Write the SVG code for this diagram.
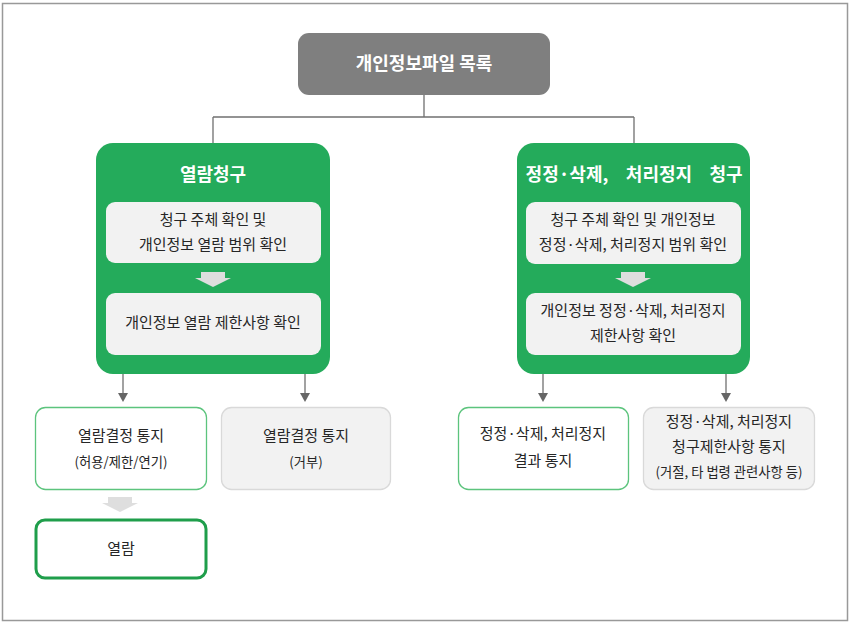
<svg xmlns="http://www.w3.org/2000/svg" width="850" height="624" viewBox="0 0 850 624">
<defs>
<style>
text{font-family:"Noto Sans CJK KR","Noto Sans",sans-serif;text-anchor:middle;fill:#262626;}
.t{font-size:15px;}
.s{font-size:13.3px;}
.h{font-size:18px;font-weight:bold;fill:#fff;}
.green{fill:#24ab5b;}
.inner{fill:#f2f2f2;}
.line{stroke:#707070;stroke-width:1.3;fill:none;}
.blk{fill:#dedede;}
</style>
</defs>
<rect x="2.5" y="3.5" width="845" height="617" fill="#fff" stroke="#999" stroke-width="1.5"/>

<g id="connectors">
<path class="line" d="M424,95 V117 M213,117 H634 M213,117 V143 M634,117 V143"/>
<path class="line" d="M123,374 V394"/>
<path d="M118,393 L128,393 L123,402 Z" fill="#666"/>
<path class="line" d="M305,374 V394"/>
<path d="M300,393 L310,393 L305,402 Z" fill="#666"/>
<path class="line" d="M543,374 V394"/>
<path d="M538,393 L548,393 L543,402 Z" fill="#666"/>
<path class="line" d="M726,374 V394"/>
<path d="M721,393 L731,393 L726,402 Z" fill="#666"/>
<path class="blk" d="M108,497 H132 V503 H138 L120,512 L102,503 H108 Z"/>
</g>

<g id="top">
<rect x="298" y="33" width="252" height="62" rx="11" fill="#7f7f7f"/>
<text class="h" x="424" y="70">개인정보파일 목록</text>
</g>

<g id="left-group">
<rect class="green" x="96" y="143" width="234" height="231" rx="17"/>
<text class="h" x="213" y="181">열람청구</text>
<rect class="inner" x="106" y="202" width="215" height="61" rx="9"/>
<text class="t" x="213" y="225">청구 주체 확인 및</text>
<text class="t" x="213" y="250">개인정보 열람 범위 확인</text>
<path class="blk" d="M201,272 H225 V278 H231 L213,287 L195,278 H201 Z"/>
<rect class="inner" x="106" y="293" width="215" height="62" rx="9"/>
<text class="t" x="213" y="328">개인정보 열람 제한사항 확인</text>
</g>

<g id="right-group">
<rect class="green" x="517" y="143" width="233" height="231" rx="17"/>
<text class="h" y="181"><tspan x="569">정정·삭제,</tspan> <tspan x="661">처리정지</tspan> <tspan x="726">청구</tspan></text>
<rect class="inner" x="526" y="202" width="215" height="62" rx="9"/>
<text class="t" x="633" y="225">청구 주체 확인 및 개인정보</text>
<text class="t" x="633" y="250">정정·삭제, 처리정지 범위 확인</text>
<path class="blk" d="M621,272 H645 V278 H651 L633,287 L615,278 H621 Z"/>
<rect class="inner" x="526" y="293" width="215" height="62" rx="9"/>
<text class="t" x="633" y="316">개인정보 정정·삭제, 처리정지</text>
<text class="t" x="633" y="341">제한사항 확인</text>
</g>

<g id="n-allow">
<rect x="35.5" y="407.5" width="171" height="82" rx="10" fill="#fff" stroke="#5cc47d" stroke-width="1.3"/>
<text class="t" x="121" y="441">열람결정 통지</text>
<text class="s" x="121" y="467">(허용/제한/연기)</text>
</g>

<g id="n-deny">
<rect x="221.5" y="407.5" width="169" height="82" rx="10" fill="#f2f2f2" stroke="#d9d9d9" stroke-width="1.3"/>
<text class="t" x="306" y="441">열람결정 통지</text>
<text class="s" x="306" y="467">(거부)</text>
</g>

<g id="n-view">
<rect x="36" y="520" width="170" height="58" rx="9" fill="#fff" stroke="#1f9e4b" stroke-width="3"/>
<text class="t" x="121" y="554">열람</text>
</g>

<g id="n-result">
<rect x="458.5" y="407.5" width="170" height="82" rx="10" fill="#fff" stroke="#5cc47d" stroke-width="1.3"/>
<text class="t" x="543" y="439">정정·삭제, 처리정지</text>
<text class="t" x="543" y="466">결과 통지</text>
</g>

<g id="n-limit">
<rect x="643.5" y="407.5" width="171" height="82" rx="10" fill="#f2f2f2" stroke="#d9d9d9" stroke-width="1.3"/>
<text class="t" x="729" y="427">정정·삭제, 처리정지</text>
<text class="t" x="729" y="452">청구제한사항 통지</text>
<text class="s" x="729" y="477">(거절, 타 법령 관련사항 등)</text>
</g>
</svg>
